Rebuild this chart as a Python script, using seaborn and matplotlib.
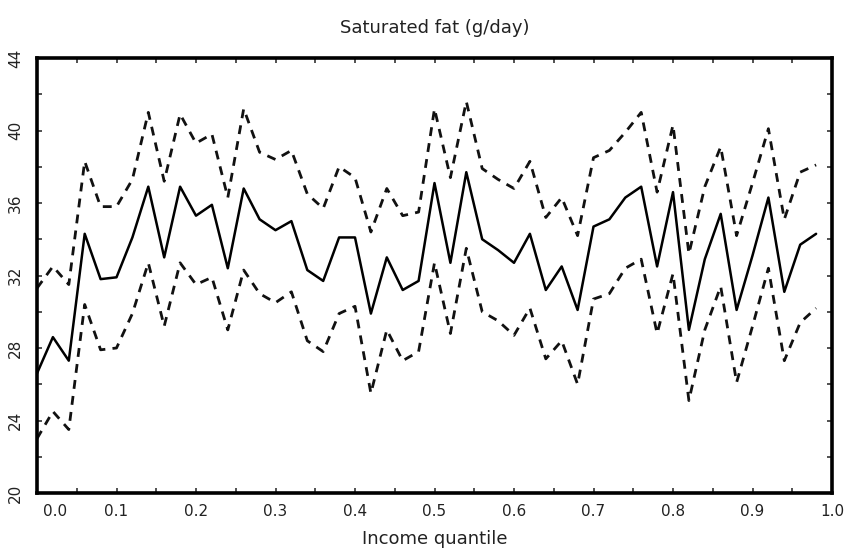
import matplotlib
matplotlib.use("Agg")
import matplotlib.pyplot as plt
import seaborn as sns
import numpy as np
import pandas as pd
from matplotlib.ticker import MultipleLocator

quantile = [0.00, 0.02, 0.04, 0.06, 0.08, 0.10, 0.12, 0.14, 0.16, 0.18,
            0.20, 0.22, 0.24, 0.26, 0.28, 0.30, 0.32, 0.34, 0.36, 0.38,
            0.40, 0.42, 0.44, 0.46, 0.48, 0.50, 0.52, 0.54, 0.56, 0.58,
            0.60, 0.62, 0.64, 0.66, 0.68, 0.70, 0.72, 0.74, 0.76, 0.78,
            0.80, 0.82, 0.84, 0.86, 0.88, 0.90, 0.92, 0.94, 0.96, 0.98]

mean_fat = [26.6, 28.6, 27.3, 34.3, 31.8, 31.9, 34.1, 36.9, 33.0, 36.9,
            35.3, 35.9, 32.4, 36.8, 35.1, 34.5, 35.0, 32.3, 31.7, 34.1,
            34.1, 29.9, 33.0, 31.2, 31.7, 37.1, 32.7, 37.7, 34.0, 33.4,
            32.7, 34.3, 31.2, 32.5, 30.1, 34.7, 35.1, 36.3, 36.9, 32.5,
            36.6, 29.0, 32.9, 35.4, 30.1, 33.1, 36.3, 31.1, 33.7, 34.3]

upper_fat = [31.3, 32.5, 31.5, 38.3, 35.8, 35.8, 37.3, 41.0, 37.2, 40.9,
             39.3, 39.8, 36.3, 41.2, 38.8, 38.4, 38.9, 36.5, 35.7, 38.0,
             37.4, 34.4, 36.8, 35.3, 35.5, 41.2, 37.4, 41.6, 37.9, 37.3,
             36.8, 38.3, 35.2, 36.3, 34.2, 38.5, 38.9, 39.9, 41.0, 36.6,
             40.3, 33.2, 36.9, 39.1, 34.2, 37.1, 40.1, 35.1, 37.7, 38.1]

lower_fat = [23.0, 24.5, 23.5, 30.4, 27.9, 28.0, 29.9, 32.7, 29.2, 32.7,
             31.5, 31.9, 29.0, 32.3, 31.0, 30.5, 31.1, 28.4, 27.8, 29.9,
             30.3, 25.5, 29.0, 27.3, 27.8, 32.7, 28.8, 33.5, 30.0, 29.5,
             28.7, 30.2, 27.4, 28.4, 26.0, 30.7, 31.0, 32.4, 32.9, 28.8,
             32.1, 25.1, 29.0, 31.4, 26.1, 29.2, 32.4, 27.3, 29.4, 30.2]

x_tick_values = [0.0, 0.1, 0.2, 0.3, 0.4, 0.5, 0.6, 0.7, 0.8, 0.9, 1.0]
x_tick_labels = ["", "0.1", "0.2", "0.3", "0.4", "0.5", "0.6", "0.7", "0.8", "0.9", "1.0"]
y_tick_values = [20, 24, 28, 32, 36, 40, 44]

df = pd.DataFrame({"q": quantile, "mean": mean_fat, "upper": upper_fat, "lower": lower_fat})

sns.set_style("ticks")
plt.rcParams["font.family"] = ["DejaVu Sans"]

fig = plt.figure(figsize=(8.49, 5.5), dpi=100)
ax = fig.add_axes([37/849, 57/550, (832-37)/849, (493-58)/550])

sns.lineplot(data=df, x="q", y="mean", ax=ax, color="black", lw=1.8)
sns.lineplot(data=df, x="q", y="upper", ax=ax, color="#111111", lw=2.0,
             linestyle=(0, (3.2, 2.6)))
sns.lineplot(data=df, x="q", y="lower", ax=ax, color="#111111", lw=2.0,
             linestyle=(0, (3.2, 2.6)))

ax.set_xlim(0, 1.0)
ax.set_ylim(20, 44)
ax.set_xticks(x_tick_values)
ax.set_xticklabels(x_tick_labels)
ax.xaxis.set_minor_locator(MultipleLocator(0.05))
ax.set_yticks(y_tick_values)
ax.set_yticklabels([str(v) for v in y_tick_values], rotation=90, va="center")
ax.yaxis.set_minor_locator(MultipleLocator(2))

for side in ["top", "right", "bottom", "left"]:
    ax.spines[side].set_visible(True)
    ax.spines[side].set_linewidth(2.6)
    ax.spines[side].set_color("black")

ax.tick_params(which="both", direction="in", top=True, right=True,
               length=3.5, width=1.2, color="#333333")
ax.tick_params(axis="x", labelsize=11, pad=8, labelcolor="#222222")
ax.tick_params(axis="y", labelsize=11, pad=10, labelcolor="#222222")

ax.annotate("0.0", xy=(0, 0), xycoords=("data", "axes fraction"),
            xytext=(13, -8), textcoords="offset points",
            ha="center", va="top", fontsize=11, color="#222222")

ax.set_xlabel("Income quantile", fontsize=13, labelpad=8, color="#222222")
ax.set_ylabel("")
ax.set_title("Saturated fat (g/day)", fontsize=13, pad=18, color="#222222")

fig.savefig("out.png", dpi=100)
